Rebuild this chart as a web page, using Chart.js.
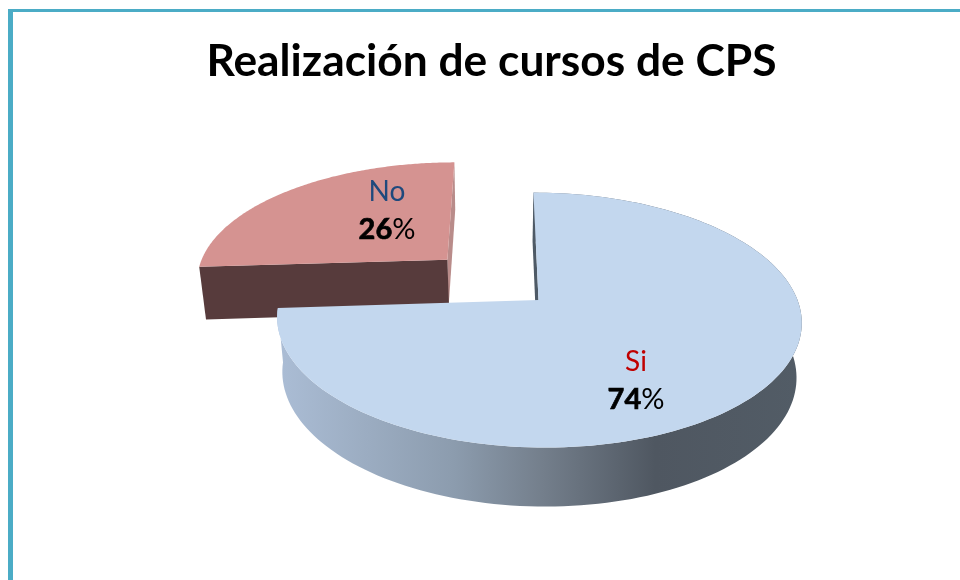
<!DOCTYPE html>
<html>
<head>
<meta charset="utf-8">
<title>Realización de cursos de CPS</title>
<script src="https://cdn.jsdelivr.net/npm/chart.js@4"></script>
<style>
    html, body { margin: 0; padding: 0; background: #fff; }
    #frame { position: absolute; left: 8px; top: 9px; right: 0; bottom: 0; border-left: 5px solid #4BACC6; border-top: 3px solid #4BACC6; }
    #wrap { position: absolute; left: 0; top: 0; width: 960px; height: 580px; }
</style>
</head>
<body>
<div id="frame"></div>
<div id="wrap"><canvas id="chart" width="960" height="580"></canvas></div>
<script>
const chartTitle = 'Realización de cursos de CPS';
const categories = ['Si', 'No'];
const percents = [74, 26];
const explode = [0, 129];

const topColors = ['#C3D7EE', '#D59391'];
const cutColors = ['#4E5A66', '#B98C8A'];
const frontColors = ['#4E5A66', '#573B3C'];
const labelColors = ['#C00000', '#1F497D'];

// vista en perspectiva del pastel
const anchorX = 538.5, anchorY = 300;
const flatten = 0.48, persp = 0.1575, shear = 0.047;
const FONT = 'Lato, Carlito, sans-serif';

function project(u, v, R, lower) {
    const den = 1 - persp * v;
    let x = R * u / den;
    const y = R * flatten * v / den;
    x += shear * y;
    if (!lower) return [anchorX + x, anchorY + y];
    return [anchorX + x * 0.98, anchorY + y + 54 + 5 * v];
}

function drawLabel(ctx, i, cx, cy) {
    ctx.textBaseline = 'middle';
    ctx.textAlign = 'center';
    ctx.fillStyle = labelColors[i];
    ctx.font = '28px ' + FONT;
    ctx.fillText(categories[i], cx, cy);

    const num = String(percents[i]);
    ctx.font = 'bold 29px ' + FONT;
    const w1 = ctx.measureText(num).width;
    ctx.font = '29px ' + FONT;
    const w2 = ctx.measureText('%').width;
    let x = cx - (w1 + w2) / 2;
    ctx.textAlign = 'left';
    ctx.fillStyle = '#000';
    ctx.strokeStyle = '#000';
    ctx.lineWidth = 0.7;
    ctx.font = 'bold 29px ' + FONT;
    ctx.fillText(num, x, cy + 38);
    ctx.strokeText(num, x, cy + 38);
    ctx.font = '29px ' + FONT;
    ctx.fillText('%', x + w1, cy + 38);
}

const pie3d = {
    id: 'pie3d',
    beforeDatasetsDraw(chart) {
        const ctx = chart.ctx;
        const arcs = chart.getDatasetMeta(0).data;
        const labelAt = [[636, 362], [387, 192]];

        // primero la rebanada separada, luego la grande encima
        [1, 0].forEach(i => {
            const arc = arcs[i];
            const { startAngle, endAngle, outerRadius: R } = arc.getProps(['startAngle', 'endAngle', 'outerRadius'], true);
            const mid = (startAngle + endAngle) / 2;
            const off = arc.options.offset / R;
            const ox = Math.cos(mid) * off, oy = Math.sin(mid) * off;

            const rim = [], low = [];
            const steps = 160;
            for (let s = 0; s <= steps; s++) {
                const a = startAngle + (endAngle - startAngle) * s / steps;
                const u = ox + Math.cos(a), v = oy + Math.sin(a);
                rim.push(project(u, v, R, false));
                low.push(project(u, v, R, true));
            }
            const apex = project(ox, oy, R, false);
            const apexLow = project(ox, oy, R, true);

            const poly = (pts, fill) => {
                ctx.beginPath();
                pts.forEach((p, n) => n ? ctx.lineTo(p[0], p[1]) : ctx.moveTo(p[0], p[1]));
                ctx.closePath();
                ctx.fillStyle = fill;
                ctx.fill();
            };

            if (i === 0) {
                const grad = ctx.createLinearGradient(283, 0, 800, 0);
                grad.addColorStop(0, '#AABCD4');
                grad.addColorStop(0.33, '#8C9CAE');
                grad.addColorStop(0.5, '#747F8C');
                grad.addColorStop(0.72, '#4F5761');
                grad.addColorStop(1, '#525C66');
                poly(rim.concat(low.slice().reverse()), grad);
                // cara de corte que mira a la izquierda
                poly([rim[0], [low[0][0] - 1, low[0][1]], [apexLow[0] - 1, apexLow[1]], apex], cutColors[i]);
            } else {
                // la cara derecha casi no se ve, solo una franja fina
                const edgeLow = [(rim[steps][0] + low[steps][0]) / 2, low[steps][1]];
                const apexMid = [(apex[0] + apexLow[0]) / 2, apexLow[1]];
                poly([rim[steps], edgeLow, apexMid, apex], cutColors[i]);
                poly([rim[0], low[0], apexLow, apex], frontColors[i]);
            }
            poly([apex].concat(rim), topColors[i]);
        });

        [1, 0].forEach(i => drawLabel(ctx, i, labelAt[i][0], labelAt[i][1]));
        return false;
    }
};

new Chart(document.getElementById('chart'), {
    type: 'pie',
    data: {
        labels: categories,
        datasets: [{
            data: percents,
            offset: explode,
            backgroundColor: topColors,
            borderWidth: 0
        }]
    },
    options: {
        responsive: false,
        animation: false,
        rotation: 0,
        radius: 259,
        layout: { padding: { left: 23, right: 0, top: 0, bottom: 0 } },
        plugins: {
            legend: { display: false },
            tooltip: { enabled: false },
            title: {
                display: true,
                text: chartTitle,
                color: '#000',
                font: { family: FONT, size: 44.3, weight: 'bold' },
                padding: { top: 35, bottom: 20 }
            }
        }
    },
    plugins: [pie3d]
});
</script>
</body>
</html>
